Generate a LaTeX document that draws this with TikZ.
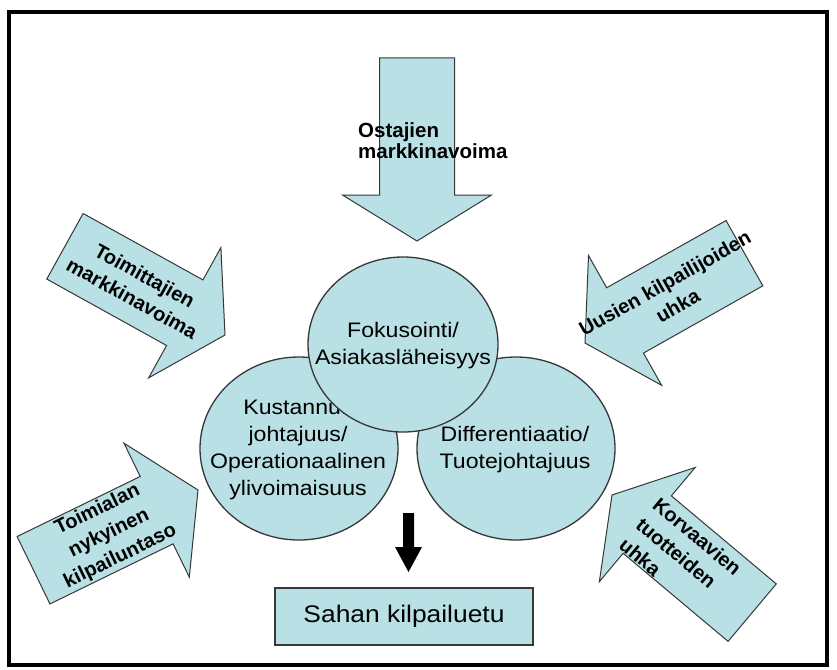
\documentclass[tikz,border=0pt]{standalone}
\usepackage{fontspec}
\setmainfont{Liberation Sans}
\newfontfamily\widefont[FakeStretch=1.1]{Liberation Sans}
\usetikzlibrary{shapes.geometric}
\definecolor{pale}{RGB}{185,224,228}
\definecolor{edge}{RGB}{55,55,55}
\tikzset{
  force/.style={fill=pale, draw=edge, line width=1pt, line join=miter},
  forcetext/.style={font=\bfseries\fontsize{20}{26}\selectfont, align=center, inner sep=0pt},
  disk/.style={ellipse, fill=pale, draw=edge, line width=1.3pt, inner sep=0pt},
  disktext/.style={font=\widefont\fontsize{21}{27}\selectfont, align=center, inner sep=0pt},
  goalbox/.style={rectangle, fill=pale, draw=edge, line width=1.2pt, inner sep=0pt,
    font=\widefont\fontsize{24}{28}\selectfont}
}
\newcommand{\forceshape}{%
  \draw[force] (0,0) -- (-46,74.5) -- (-46,37.5) -- (-183,37.5) -- (-183,-37.5)
    -- (-46,-37.5) -- (-46,-74.5) -- cycle;}
\begin{document}
\begin{tikzpicture}[x=1pt,y=-1pt]
\useasboundingbox (0,0) rectangle (837,669);
\fill[white] (0,0) rectangle (837,669);

% top arrow: Ostajien markkinavoima
\begin{scope}[shift={(417,241)}, rotate=-90]
  \forceshape
\end{scope}
\node[forcetext, font=\bfseries\fontsize{20.5}{21}\selectfont, align=left, anchor=west] (buyers) at (358,141) {Ostajien\\markkinavoima};

% Toimittajien markkinavoima
\begin{scope}[shift={(225,335)}, rotate=-29]
  \forceshape
  \node[forcetext, rotate=-29] (suppliers) at (-99,0) {Toimittajien\\markkinavoima};
\end{scope}

% Uusien kilpailijoiden uhka
\begin{scope}[shift={(585,343)}, rotate=209.4]
  \forceshape
  \node[forcetext, rotate=29.4] (entrants) at (-99,0) {Uusien kilpailijoiden\\uhka};
\end{scope}

% Toimialan nykyinen kilpailuntaso
\begin{scope}[shift={(198,490)}, rotate=26]
  \forceshape
  \node[forcetext, rotate=26] (rivalry) at (-99,0) {Toimialan\\nykyinen\\kilpailuntaso};
\end{scope}

% Korvaavien tuotteiden uhka
\begin{scope}[shift={(612,495)}, rotate=140]
  \forceshape
  \node[forcetext, align=left, rotate=-40] (substitutes) at (-92,-3) {Korvaavien\\tuotteiden\\uhka};
\end{scope}

% circles
\node[disk, minimum width=198pt, minimum height=183pt] (cost) at (299,448.5) {};
\node[disktext] (costtext) at (298,449.5) {Kustannus\\johtajuus/\\Operationaalinen\\ylivoimaisuus};
\node[disk, minimum width=198pt, minimum height=183pt] (diff) at (516,448.5) {};
\node[disktext] (difftext) at (515,449.5) {Differentiaatio/\\Tuotejohtajuus};
\node[disk, minimum width=190pt, minimum height=175pt] (focus) at (403,344.5) {};
\node[disktext] (focustext) at (403,346) {Fokusointi/\\Asiakasläheisyys};

% result box
\node[goalbox, minimum width=258pt, minimum height=57pt] (goal) at (404,616.5) {Sahan kilpailuetu};

% black arrow
\coordinate (dtip) at (408.5,572);
\fill[black] (dtip) -- ++(-13.5,-25) -- ++(8,0) -- ++(0,-34) -- ++(11,0) -- ++(0,34) -- ++(8,0) -- cycle;

% frame
\draw[line width=4.5pt] (9,12) rectangle (827,665);
\end{tikzpicture}
\end{document}
